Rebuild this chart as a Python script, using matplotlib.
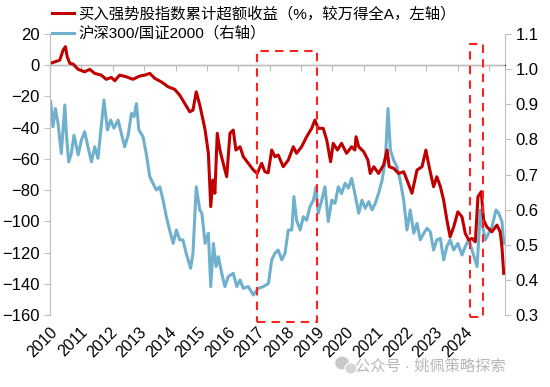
import numpy as np
import matplotlib.pyplot as plt
from matplotlib.patches import Rectangle, Ellipse

plt.rcParams['font.family'] = ['Liberation Sans', 'Noto Sans CJK SC', 'DejaVu Sans']

# 买入强势股指数累计超额收益 (%, left axis); dates as years since 2010
red_t = 2010 + np.array([
    0.00, 0.16, 0.33, 0.44, 0.52, 0.58, 0.67, 0.78, 0.95, 1.17,
    1.34, 1.51, 1.73, 1.90, 2.07, 2.19, 2.35, 2.58, 2.80, 3.03,
    3.20, 3.37, 3.54, 3.76, 3.99, 4.21, 4.38, 4.55, 4.72, 4.83,
    4.94, 5.06, 5.17, 5.24, 5.35, 5.43, 5.50, 5.57, 5.65, 5.74,
    5.88, 5.97, 6.08, 6.19, 6.28, 6.42, 6.53, 6.70, 6.87, 7.00,
    7.15, 7.26, 7.37, 7.49, 7.60, 7.71, 7.88, 8.05, 8.22, 8.33,
    8.50, 8.67, 8.84, 8.95, 9.06, 9.23, 9.35, 9.48, 9.57, 9.71,
    9.85, 10.02, 10.19, 10.30, 10.34, 10.43, 10.60, 10.74, 10.82, 10.94,
    11.10, 11.27, 11.39, 11.46, 11.61, 11.78, 11.95, 12.06, 12.23, 12.40,
    12.57, 12.70, 12.81, 12.96, 13.07, 13.19, 13.30, 13.41, 13.52, 13.64,
    13.78, 13.92, 14.03, 14.15, 14.26, 14.37, 14.46, 14.57, 14.65, 14.76,
    14.93, 15.10, 15.21, 15.27, 15.33])
red_v = [
    1.2, 2.2, 3.3, 9.7, 11.9, 5.4, 1.2, 0.8, -2.6, -4.2,
    -2.6, -5.2, -6.3, -9.0, -7.8, -9.9, -6.3, -7.4, -9.0, -6.9,
    -6.3, -5.2, -8.4, -10.6, -13.8, -15.4, -19.1, -24.4, -29.8, -28.7,
    -17.0, -25.5, -35.1, -41.5, -56.4, -90.6, -73.5, -82.0, -43.6, -54.3,
    -65.0, -71.4, -43.6, -41.5, -54.3, -52.2, -58.6, -62.8, -67.1, -69.3,
    -62.8, -68.2, -68.9, -54.3, -58.6, -57.5, -65.0, -60.7, -52.2, -56.4,
    -52.2, -45.8, -40.4, -35.1, -40.4, -40.4, -47.9, -61.8, -50.0, -54.3,
    -50.0, -56.4, -52.2, -54.3, -45.8, -52.2, -55.4, -60.7, -69.3, -65.0,
    -69.3, -63.9, -54.3, -65.0, -66.0, -69.3, -68.2, -73.5, -82.0, -67.1,
    -65.0, -54.3, -65.0, -77.8, -71.4, -77.8, -86.4, -99.2, -109.9, -103.5,
    -93.9, -97.1, -107.7, -112.0, -110.9, -113.1, -84.2, -81.0, -99.2, -103.5,
    -106.7, -102.4, -106.7, -116.3, -133.3]

# 沪深300/国证2000 (right axis)
blue_t = 2010 + np.array([
    0.02, 0.10, 0.18, 0.27, 0.38, 0.50, 0.55, 0.63, 0.72, 0.81,
    0.95, 1.06, 1.17, 1.28, 1.40, 1.51, 1.62, 1.73, 1.82, 1.94,
    2.05, 2.16, 2.30, 2.41, 2.52, 2.64, 2.75, 2.84, 2.92, 3.00,
    3.14, 3.25, 3.37, 3.48, 3.59, 3.71, 3.82, 3.93, 4.04, 4.16,
    4.27, 4.38, 4.49, 4.60, 4.75, 4.83, 4.94, 5.06,
    5.13, 5.24, 5.35, 5.43, 5.52, 5.61, 5.69, 5.80, 5.91, 6.02,
    6.19, 6.31, 6.42, 6.53, 6.70, 6.87, 7.04, 7.21, 7.38, 7.49,
    7.60, 7.71, 7.83, 7.94, 8.05, 8.17, 8.24, 8.33, 8.45, 8.56,
    8.67, 8.78, 8.90, 8.99, 9.06, 9.18, 9.29, 9.40, 9.52, 9.63,
    9.74, 9.85, 9.97, 10.08, 10.19, 10.30,
    10.43, 10.54, 10.65, 10.77, 10.88, 10.99, 11.10, 11.22, 11.33, 11.42,
    11.50, 11.61, 11.72, 11.83, 11.95, 12.06, 12.17, 12.29, 12.40, 12.51,
    12.63, 12.74, 12.85, 12.96, 13.07, 13.19, 13.30, 13.41, 13.52, 13.64,
    13.78, 13.92, 14.03, 14.15, 14.26, 14.43, 14.54, 14.62, 14.71, 14.82,
    14.93, 15.07, 15.16, 15.27, 15.33])
blue_v = [
    0.907, 0.836, 0.888, 0.846, 0.760, 0.898, 0.817, 0.736, 0.760, 0.812,
    0.756, 0.798, 0.822, 0.779, 0.736, 0.779, 0.746, 0.836, 0.912, 0.827,
    0.855, 0.832, 0.855, 0.817, 0.779, 0.812, 0.874, 0.865, 0.902, 0.827,
    0.808, 0.760, 0.694, 0.675, 0.656, 0.665, 0.627, 0.580, 0.542, 0.504,
    0.542, 0.514, 0.514, 0.476, 0.433, 0.476, 0.665, 0.599,
    0.590, 0.504, 0.533, 0.381, 0.504, 0.438, 0.466, 0.419, 0.381, 0.409,
    0.419, 0.381, 0.400, 0.376, 0.381, 0.357, 0.376, 0.381, 0.390, 0.457,
    0.476, 0.485, 0.457, 0.476, 0.542, 0.542, 0.637, 0.570, 0.542, 0.580,
    0.570, 0.608, 0.627, 0.665, 0.590, 0.627, 0.665, 0.566, 0.627, 0.618,
    0.665, 0.646, 0.675, 0.661, 0.689, 0.646,
    0.590, 0.627, 0.604, 0.623, 0.599, 0.618, 0.646, 0.684, 0.741, 0.888,
    0.770, 0.741, 0.722, 0.684, 0.627, 0.542, 0.599, 0.533, 0.561, 0.514,
    0.533, 0.547, 0.537, 0.485, 0.514, 0.518, 0.457, 0.495, 0.514, 0.485,
    0.504, 0.471, 0.495, 0.514, 0.485, 0.438, 0.599, 0.551, 0.514, 0.533,
    0.551, 0.599, 0.590, 0.566, 0.504]

years = list(range(2010, 2025))
red_label = '买入强势股指数累计超额收益（%，较万得全A，左轴）'
blue_label = '沪深300/国证2000（右轴）'

red_c = '#C00000'
blue_c = '#6FB0CC'
grey = '#BFBFBF'

fig = plt.figure(figsize=(5.5, 3.87), dpi=100)
ax = fig.add_axes([0.091, 0.186, 0.827, 0.726])
ax2 = ax.twinx()
ax.set_zorder(ax2.get_zorder() + 1)
ax.patch.set_visible(False)

l2, = ax2.plot(blue_t, blue_v, color=blue_c, lw=2.2, label=blue_label)
l1, = ax.plot(red_t, red_v, color=red_c, lw=2.2, label=red_label)

ax.set_ylim(-160, 20)
ax.set_yticks(range(-160, 21, 20))
ax2.set_ylim(0.3, 1.1)
ax2.set_yticks(np.arange(0.3, 1.11, 0.1))
ax2.set_yticklabels([f'{v:.1f}' for v in np.arange(0.3, 1.11, 0.1)])
ax.set_xlim(2010, 2025.37)

# year labels at bottom, no tick marks
ax.set_xticks(years)
ax.set_xticklabels([str(y) for y in years], rotation=45, ha='right',
                   rotation_mode='anchor')
ax.tick_params(axis='x', length=0, pad=7, labelsize=11.5)

# zero line with tick marks
ax.axhline(0, color=grey, lw=1, zorder=1)
sec = ax.secondary_xaxis(160 / 180)
sec.set_xticks(2010 + 1.06 * np.arange(15))
sec.set_xticklabels([])
sec.tick_params(axis='x', direction='in', length=4, color=grey)
sec.spines['bottom'].set_visible(False)

for a in (ax, ax2):
    for s in ('top', 'bottom'):
        a.spines[s].set_visible(False)
ax.spines['right'].set_visible(False)
ax2.spines['left'].set_visible(False)
ax.spines['left'].set_color(grey)
ax2.spines['right'].set_color(grey)
ax.tick_params(axis='y', color=grey, length=4, labelsize=12)
ax2.tick_params(axis='y', color=grey, length=4, labelsize=12)

# highlighted periods
ax.add_patch(Rectangle((2016.98, -164.3), 2.03, 173.4, fill=False, ec='#FF2020',
                       ls=(0, (4, 3)), lw=1.5, clip_on=False, zorder=5))
ax.add_patch(Rectangle((2024.19, -161.1), 0.45, 174.7, fill=False, ec='#FF2020',
                       ls=(0, (4, 3)), lw=1.5, clip_on=False, zorder=5))

fig.legend(handles=[l1, l2], loc='upper left', bbox_to_anchor=(0.07, 1.018),
           frameon=False, fontsize=11.1, handlelength=1.4, handletextpad=0.3,
           labelspacing=0.3)

# watermark
fig.patches.append(Ellipse((0.622, 0.062), 0.025, 0.033, transform=fig.transFigure,
                           fc='#C8C8C8', ec='none'))
fig.patches.append(Ellipse((0.638, 0.048), 0.022, 0.029, transform=fig.transFigure,
                           fc='#D6D6D6', ec='white', lw=0.8))
fig.text(0.92, 0.055, '公众号 · 姚佩策略探索', ha='right', va='center',
         color='#B8B8B8', fontsize=11)

fig.savefig('out.png', dpi=100)
